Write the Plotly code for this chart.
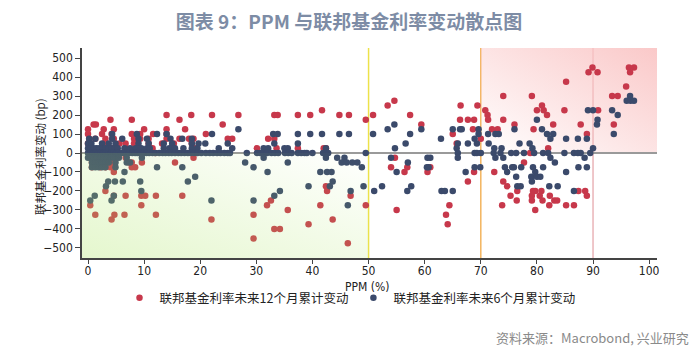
import base64
import plotly.graph_objects as go

# ---------------- data ----------------
# (PPM %, cumulative Fed funds change in bp)
red_12m = [
    (14.0, 200), (18.4, 200), (22.1, 200),
    (4.0, 175), (7.8, 175), (16.3, 175),
    (1.0, 150), (1.4, 150), (24.0, 150),
    (0.0, 125), (2.8, 125), (4.6, 125), (10.0, 125), (14.0, 125), (17.3, 125),
    (0.0, 100), (2.5, 100), (4.2, 100), (7.8, 100), (9.3, 100), (11.6, 100), (14.0, 100), (21.0, 100),
    (0.2, 75), (1.3, 75), (3.1, 75), (4.6, 75), (8.2, 75), (9.3, 75), (10.8, 75), (14.0, 75),
    (16.3, 75), (18.0, 75), (18.8, 75),
    (0.0, 50), (2.8, 50), (5.6, 50), (6.7, 50), (8.2, 50), (10.8, 50), (13.2, 50), (15.3, 50), (18.5, 50),
    (0.4, 25), (4.3, 25), (6.7, 25), (9.0, 25), (11.5, 25), (15.0, 25), (19.0, 25),
    (0.5, 0), (3.0, 0), (7.0, 0), (12.0, 0),
    (1.3, -25), (2.5, -25), (4.9, -25), (6.7, -25), (18.8, -25),
    (0.7, -50), (4.3, -50), (7.3, -50), (7.8, -50), (9.6, -50), (15.5, -50),
    (0.7, -75), (2.2, -75), (3.1, -75), (4.0, -75), (7.8, -75), (8.4, -75),
    (4.6, -100), (3.1, -200),
    (4.6, -225), (6.7, -225), (9.5, -225), (10.2, -225), (12.1, -225), (16.8, -225),
    (0.4, -275), (9.5, -275),
    (1.3, -325), (4.7, -325), (6.5, -325), (12.1, -325),
    (4.2, -350), (22.0, -350),
    # 25 - 50
    (41.7, 225),
    (26.8, 200), (33.2, 200), (33.8, 200), (37.4, 200), (39.6, 200), (44.8, 200), (46.5, 200),
    (49.5, 175),
    (24.9, 75), (25.7, 75), (32.1, 75), (33.2, 75),
    (30.1, 25), (33.6, 25), (37.4, 25), (42.0, 25), (42.4, 25),
    (42.4, -175), (42.6, -200), (46.8, -225), (32.6, -250),
    (31.9, -275), (41.4, -275), (49.5, -275),
    (35.6, -300), (29.5, -325), (43.6, -350), (39.3, -375),
    (33.2, -400), (34.2, -400), (29.5, -450), (46.3, -475),
    # 50 - 75
    (74.0, 300), (54.6, 275),
    (53.4, 250), (66.4, 250), (69.4, 250),
    (70.8, 225),
    (50.8, 200), (57.4, 200), (71.2, 200),
    (66.3, 175), (67.7, 175), (68.8, 175), (71.3, 175), (74.0, 175),
    (59.4, 150),
    (68.6, 125), (72.0, 125), (73.0, 125),
    (65.0, 100), (70.0, 75), (65.7, 50),
    (54.7, -25),
    (54.0, -75), (56.9, -75), (61.0, -75),
    (56.4, -100), (60.5, -100), (68.8, -100), (72.4, -100),
    (67.7, -150), (74.0, -150), (74.7, -175), (75.3, -225),
    (64.4, -275), (73.8, -275), (55.0, -300), (63.8, -325), (64.1, -375),
    # 75 - 100
    (89.9, 450), (96.4, 450), (97.3, 450),
    (89.2, 425), (90.8, 425), (96.6, 425),
    (85.2, 375), (95.9, 350),
    (79.1, 300), (93.4, 300), (94.4, 300),
    (80.9, 250),
    (80.0, 225), (81.2, 225), (84.9, 225), (90.9, 225),
    (81.8, 200),
    (76.0, 150), (82.9, 150), (87.8, 150), (93.7, 150),
    (79.4, 125), (88.9, 100), (82.0, 25), (78.8, 0), (77.7, -50),
    (76.5, -200), (79.3, -200), (79.7, -200), (80.8, -200), (87.4, -200), (88.6, -200),
    (79.1, -225), (80.5, -225), (82.3, -225), (88.9, -225),
    (76.4, -250), (79.1, -250), (81.0, -250), (83.1, -250), (83.6, -250),
    (82.2, -275), (85.2, -275), (86.6, -275),
    (79.7, -300),
]

blue_6m = [
    (4.3, 100), (8.7, 100), (12.3, 100), (14.0, 100), (22.1, 100),
    (0.2, 75), (1.3, 75), (4.3, 75), (6.1, 75), (9.0, 75), (10.5, 75), (14.7, 75), (16.8, 75), (18.5, 75),
    (0.0, 50), (0.6, 50), (2.5, 50), (3.7, 50), (4.9, 50), (9.0, 50), (10.8, 50), (13.5, 50),
    (15.0, 50), (18.5, 50), (19.7, 50), (20.9, 50),
    (0.0, 25), (0.5, 25), (1.0, 25), (1.5, 25), (2.0, 25), (2.6, 25), (3.1, 25), (3.7, 25),
    (4.2, 25), (4.8, 25), (5.3, 25), (6.5, 25), (7.5, 25), (8.5, 25), (9.5, 25), (10.5, 25),
    (11.0, 25), (13.5, 25), (14.5, 25), (15.5, 25), (17.0, 25), (18.5, 25), (19.5, 25), (23.3, 25),
    (0.0, 0), (0.4, 0), (0.9, 0), (1.3, 0), (1.8, 0), (2.2, 0), (2.7, 0), (3.1, 0), (3.6, 0),
    (4.1, 0), (4.5, 0), (5.0, 0), (5.4, 0), (5.9, 0), (6.4, 0), (6.8, 0), (7.3, 0), (7.9, 0),
    (8.4, 0), (8.8, 0), (9.3, 0), (9.9, 0), (10.4, 0), (10.9, 0), (11.5, 0), (12.0, 0),
    (12.7, 0), (13.3, 0), (13.8, 0), (14.4, 0), (14.9, 0), (15.5, 0), (16.1, 0), (16.6, 0),
    (17.2, 0), (17.8, 0), (18.3, 0), (18.9, 0), (19.5, 0), (20.2, 0), (21.0, 0), (21.7, 0),
    (22.3, 0), (23.0, 0), (23.6, 0), (24.3, 0),
    (0.0, -25), (0.5, -25), (1.0, -25), (1.6, -25), (2.2, -25), (2.8, -25), (3.4, -25),
    (4.0, -25), (4.6, -25), (5.5, -25), (6.9, -25), (9.6, -25),
    (0.7, -50), (1.3, -50), (1.9, -50), (2.5, -50), (3.1, -50), (3.7, -50), (4.9, -50), (6.9, -50), (7.5, -50),
    (0.7, -75), (1.3, -75), (1.9, -75), (2.5, -75), (3.1, -75), (4.9, -75), (12.3, -75), (16.8, -75),
    (6.5, -100), (19.1, -125),
    (3.6, -150), (4.8, -150), (6.2, -150), (9.3, -150), (17.8, -150),
    (3.2, -175), (9.5, -200), (1.2, -225), (4.6, -225),
    (0.4, -250), (4.2, -250), (22.0, -250),
    # 25 - 50
    (26.8, 125),
    (33.0, 100), (33.8, 100), (37.4, 100), (39.6, 100), (41.7, 100), (44.8, 100), (46.5, 100),
    (24.9, 50), (33.2, 50), (37.4, 50),
    (25.7, 25), (31.3, 25), (32.1, 25), (35.0, 25), (35.6, 25), (42.4, 25),
    (24.9, 0), (25.3, 0), (28.3, 0), (30.1, 0), (30.7, 0), (31.3, 0), (31.9, 0), (32.7, 0),
    (33.3, 0), (33.9, 0), (35.1, 0), (35.7, 0), (36.3, 0), (37.4, 0), (38.0, 0), (38.6, 0),
    (39.0, 0), (40.0, 0), (41.9, 0), (42.5, 0), (42.8, 0), (49.5, 0),
    (31.3, -25), (42.4, -25), (44.4, -25), (45.7, -25),
    (28.0, -50), (35.6, -50), (45.2, -50), (46.1, -50), (47.1, -50), (48.0, -50),
    (29.5, -75), (48.8, -75),
    (32.0, -100), (41.4, -100), (42.6, -100), (43.4, -100),
    (43.6, -150), (39.3, -175), (43.1, -175), (49.1, -175),
    (34.2, -200), (46.8, -200), (33.2, -225), (29.5, -250), (46.3, -275),
    # 50 - 75
    (54.6, 150),
    (53.4, 125), (59.4, 125), (65.0, 125), (66.3, 125), (66.6, 125), (69.6, 125),
    (50.8, 100), (57.4, 100), (69.6, 100), (71.3, 100), (72.6, 100), (73.2, 100),
    (62.9, 75), (68.9, 75),
    (56.6, 50), (65.9, 50), (67.7, 50), (69.3, 50), (71.4, 50),
    (54.7, 25), (65.7, 25), (72.4, 25), (73.7, 25),
    (65.9, 0), (68.9, 0), (69.3, 0), (70.0, 0), (72.3, 0), (73.5, 0), (75.4, 0),
    (54.0, -25), (60.5, -25), (61.0, -25), (65.9, -25), (72.6, -25), (74.0, -25),
    (57.0, -50),
    (60.4, -75), (60.7, -75), (68.9, -75), (69.9, -75), (74.3, -75), (75.6, -75),
    (55.0, -100), (67.3, -100), (74.7, -100),
    (52.4, -175), (57.6, -175),
    (51.0, -200), (56.9, -200), (63.0, -200), (63.6, -200), (65.0, -200),
    # 75 - 100
    (96.6, 300),
    (96.0, 275), (96.7, 275), (97.3, 275),
    (89.1, 225), (90.0, 225), (93.4, 225),
    (94.4, 200),
    (80.0, 175), (90.8, 175), (90.7, 150),
    (76.0, 125), (80.9, 125),
    (81.8, 100), (82.9, 100), (93.7, 100),
    (82.4, 75), (85.2, 75), (87.3, 75), (88.9, 75),
    (76.9, 50), (78.7, 50),
    (79.2, 25), (90.0, 25),
    (76.3, 0), (77.7, 0), (79.5, 0), (81.1, 0), (82.0, 0), (84.9, 0), (86.6, 0), (87.3, 0),
    (87.8, 0), (89.5, 0),
    (82.4, -25), (88.5, -25), (83.2, -50),
    (75.9, -75), (77.2, -75), (79.3, -75), (81.1, -75), (87.4, -75), (88.9, -75),
    (79.7, -100), (85.2, -100),
    (76.3, -125), (79.0, -125), (80.0, -125), (80.6, -125),
    (79.1, -150),
    (76.5, -175), (77.1, -175), (82.2, -175), (83.7, -175),
    (86.6, -200),
]

x_ticks = [0, 10, 20, 30, 40, 50, 60, 70, 80, 90, 100]
y_ticks = [-500, -400, -300, -200, -100, 0, 100, 200, 300, 400, 500]
threshold_lines = [50, 70, 90]

name_12m = "联邦基金利率未来12个月累计变动"
name_6m = "联邦基金利率未来6个月累计变动"

X_RANGE = [-1.07, 101.4]
Y_RANGE = [-553, 553]

RED = "#C7384B"
BLUE = "#3B4A6B"

# the page body adds an 8px offset; the figure is sized to fill the rest
W, H = 692, 348


def grad_svg(color, op_start, op_end):
    svg = (
        "<svg xmlns='http://www.w3.org/2000/svg' width='100' height='100' "
        "viewBox='0 0 100 100' preserveAspectRatio='none'>"
        "<defs><linearGradient id='g' x1='0' y1='1' x2='1' y2='0'>"
        f"<stop offset='0' stop-color='{color}' stop-opacity='{op_start}'/>"
        f"<stop offset='1' stop-color='{color}' stop-opacity='{op_end}'/>"
        "</linearGradient></defs>"
        "<rect x='0' y='0' width='100' height='100' fill='url(#g)'/></svg>"
    )
    return "data:image/svg+xml;base64," + base64.b64encode(svg.encode()).decode()


fig = go.Figure()
fig.add_trace(go.Scatter(
    x=[p[0] for p in red_12m], y=[p[1] for p in red_12m], mode="markers",
    name=name_12m, marker=dict(color=RED, size=6.5, line=dict(width=0)),
))
fig.add_trace(go.Scatter(
    x=[p[0] for p in blue_6m], y=[p[1] for p in blue_6m], mode="markers",
    name=name_6m, marker=dict(color=BLUE, size=6.5, line=dict(width=0)),
))

line_colors = ["#EDE24A", "#F3B45E", "#E9B4B8"]
for xv, c in zip(threshold_lines, line_colors):
    fig.add_shape(type="line", xref="x", yref="paper", x0=xv, x1=xv, y0=0, y1=1,
                  line=dict(color=c, width=1.5), layer="below")

images = [
    # red zone (upper right), below markers
    dict(source=grad_svg("rgb(250,198,198)", 0, 0.95), xref="x", yref="y",
         x=70.0, y=Y_RANGE[1], sizex=X_RANGE[1] - 70.0, sizey=Y_RANGE[1],
         xanchor="left", yanchor="top", sizing="stretch", layer="below"),
    # green zone (lower left), drawn over the markers
    dict(source=grad_svg("rgb(175,230,105)", 0.33, 0), xref="x", yref="y",
         x=X_RANGE[0], y=0, sizex=50 - X_RANGE[0], sizey=-Y_RANGE[0],
         xanchor="left", yanchor="top", sizing="stretch", layer="above"),
]

tick_font = dict(family="Liberation Sans Narrow, DejaVu Sans Condensed, Arial Narrow, sans-serif",
                 size=12, color="#222")

# plot area in page pixels: x 82..657, y 48..258  -> figure pixels minus 8
fig.update_layout(
    width=W, height=H,
    margin=dict(l=74, r=43, t=40, b=98, autoexpand=False),
    paper_bgcolor="white", plot_bgcolor="white",
    images=images,
    showlegend=True,
    legend=dict(orientation="h", xref="container", yref="container",
                x=(350 - 8) / W, xanchor="center", y=1 - (298 - 8) / H, yanchor="middle",
                font=dict(family="Noto Sans CJK SC", size=12.5, color="#222"),
                itemsizing="trace", bgcolor="rgba(0,0,0,0)", tracegroupgap=0,
                itemwidth=30),
    title=dict(text="图表 9：PPM 与联邦基金利率变动散点图",
               xref="container", yref="container", x=(349 - 8) / W, y=1 - (22 - 8) / H,
               xanchor="center", yanchor="middle",
               font=dict(family="Noto Sans CJK SC", size=19, color="#7D8CA5", weight="bold")),
    xaxis=dict(range=X_RANGE, tickvals=x_ticks, showgrid=False, zeroline=False,
               showline=True, linecolor="#444", linewidth=1.5, automargin=False,
               ticks="outside", ticklen=4, tickcolor="#444", tickwidth=1,
               ticklabelstandoff=-3, tickfont=tick_font),
    yaxis=dict(range=Y_RANGE, tickvals=y_ticks, showgrid=False, automargin=False,
               zeroline=True, zerolinecolor="#9A9A9A", zerolinewidth=1.5,
               showline=True, linecolor="#444", linewidth=1.5,
               ticks="outside", ticklen=5, tickcolor="#444", tickwidth=1,
               tickfont=tick_font),
    annotations=[
        dict(text="联邦基金利率变动 (bp)", xref="paper", yref="paper",
             x=(40 - 82) / 575, y=(258 - 157) / 210, textangle=-90, showarrow=False,
             xanchor="center", yanchor="middle",
             font=dict(family="Noto Sans CJK SC", size=11.5, color="#222")),
        dict(text="PPM (%)", xref="paper", yref="paper",
             x=(367 - 82) / 575, y=(258 - 286.5) / 210, showarrow=False,
             xanchor="center", yanchor="middle",
             font=dict(family="Liberation Sans Narrow, DejaVu Sans Condensed, sans-serif",
                       size=12, color="#222")),
        dict(text="资料来源：Macrobond, 兴业研究", xref="paper", yref="paper",
             x=(691 - 82) / 575, y=(258 - 337) / 210, showarrow=False,
             xanchor="right", yanchor="middle",
             font=dict(family="Noto Sans CJK SC", size=13, color="#8A8A8A")),
    ],
)

fig.write_html("out.html")
